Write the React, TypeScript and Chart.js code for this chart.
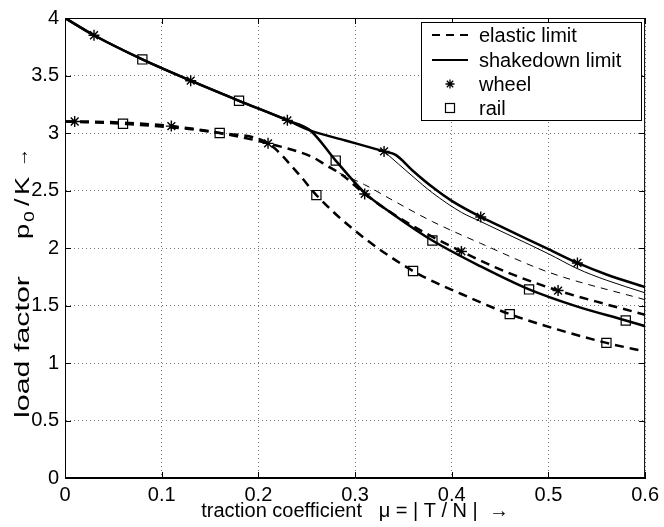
import React, { useEffect, useRef } from 'react';
import { Chart, registerables } from 'chart.js';

Chart.register(...registerables);

// ---- axes ----
const xTicks = [0, 0.1, 0.2, 0.3, 0.4, 0.5, 0.6];
const xTickLabels = ['0', '0.1', '0.2', '0.3', '0.4', '0.5', '0.6'];
const yTicks = [0, 0.5, 1, 1.5, 2, 2.5, 3, 3.5, 4];
const yTickLabels = ['0', '0.5', '1', '1.5', '2', '2.5', '3', '3.5', '4'];
const xTitle = 'traction coefficient   \u03bc = | T / N |  \u2192';
const yTitleWords = 'load factor';
const yTitleSym = 'p';
const yTitleSub = '0';
const yTitleRest = '/';
const yTitleK = 'K';
const yTitleArrow = '\u2192';

// ---- shakedown limit, wheel (thick solid) ----
const muShakeWheel = [0, 0.03, 0.08, 0.13, 0.18, 0.23, 0.254, 0.29, 0.33, 0.342, 0.36, 0.38, 0.4, 0.43, 0.45, 0.5, 0.53, 0.56, 0.6];
const p0ShakeWheel = [4.0, 3.85, 3.64, 3.455, 3.28, 3.11, 3.02, 2.935, 2.84, 2.81, 2.67, 2.53, 2.41, 2.27, 2.19, 1.99, 1.87, 1.77, 1.66];

// ---- shakedown limit, rail (thick solid) ----
const muShakeRail = [0, 0.03, 0.08, 0.13, 0.18, 0.23, 0.254, 0.28, 0.31, 0.34, 0.38, 0.43, 0.48, 0.53, 0.58, 0.6];
const p0ShakeRail = [4.0, 3.85, 3.64, 3.455, 3.28, 3.11, 3.02, 2.76, 2.48, 2.29, 2.065, 1.84, 1.64, 1.49, 1.37, 1.32];

// ---- elastic limit, wheel (thick dashed) ----
const muElasticWheel = [0, 0.01, 0.06, 0.11, 0.16, 0.21, 0.256, 0.27, 0.286, 0.31, 0.35, 0.41, 0.46, 0.51, 0.56, 0.6];
const p0ElasticWheel = [3.1, 3.1, 3.09, 3.06, 3.0, 2.91, 2.79, 2.72, 2.64, 2.47, 2.24, 1.97, 1.78, 1.63, 1.51, 1.42];

// ---- elastic limit, rail (thick dashed) ----
const muElasticRail = [0, 0.06, 0.16, 0.21, 0.242, 0.26, 0.3, 0.36, 0.41, 0.46, 0.51, 0.56, 0.6];
const p0ElasticRail = [3.1, 3.08, 3.0, 2.91, 2.64, 2.46, 2.15, 1.8, 1.6, 1.425, 1.29, 1.175, 1.1];

// ---- thin solid curve ----
const muThinSolid = [0.33, 0.36, 0.38, 0.41, 0.43, 0.45, 0.5, 0.53, 0.56, 0.6];
const p0ThinSolid = [2.84, 2.62, 2.48, 2.31, 2.23, 2.15, 1.95, 1.82, 1.72, 1.61];

// ---- thin dashed curve ----
const muThinDashed = [0.284, 0.31, 0.34, 0.38, 0.43, 0.5, 0.6];
const p0ThinDashed = [2.65, 2.55, 2.41, 2.23, 2.04, 1.79, 1.55];

// ---- markers ----
const muWheelMarks = [0.01, 0.11, 0.21, 0.31, 0.41, 0.51, 0.03, 0.13, 0.23, 0.33, 0.43, 0.53];
const p0WheelMarks = [3.1, 3.06, 2.91, 2.47, 1.97, 1.63, 3.85, 3.455, 3.11, 2.84, 2.27, 1.87];
const muRailMarks = [0.06, 0.16, 0.26, 0.36, 0.46, 0.56, 0.08, 0.18, 0.28, 0.38, 0.48, 0.58];
const p0RailMarks = [3.08, 3.0, 2.46, 1.8, 1.425, 1.175, 3.64, 3.28, 2.76, 2.065, 1.64, 1.37];

// ---- legend ----
const legendLabels = ['elastic limit', 'shakedown limit', 'wheel', 'rail'];

const FONT = "'Liberation Sans', Arial, Helvetica, sans-serif";
const FS = 20;

const pts = (xs: number[], ys: number[]) => xs.map((x, i) => ({ x, y: ys[i] }));

// rotated text piece: starts at screen y yStart and runs upward; baseline at screen x bx
function rotText(ctx: any, txt: string, bx: number, yStart: number, size: number, stretch: number, targetLen?: number) {
  ctx.save();
  ctx.font = `${size}px ${FONT}`;
  ctx.translate(bx, yStart);
  ctx.rotate(-Math.PI / 2);
  let k = stretch;
  if (targetLen) {
    const w = ctx.measureText(txt).width;
    k = targetLen / w;
  }
  ctx.scale(k, 1);
  ctx.textAlign = 'left';
  ctx.textBaseline = 'alphabetic';
  ctx.fillText(txt, 0, 0);
  ctx.restore();
}

const framePlugin = {
  id: 'matlabFrame',
  afterDraw(chart: any) {
    const { ctx, chartArea: a, scales } = chart;
    ctx.save();
    ctx.strokeStyle = '#000';
    ctx.lineWidth = 1;
    ctx.setLineDash([]);
    ctx.strokeRect(a.left + 0.5, a.top + 0.5, a.right - a.left - 1, a.bottom - a.top - 1);
    const tl = 6;
    ctx.beginPath();
    xTicks.forEach((v) => {
      const px = Math.round(scales.x.getPixelForValue(v)) + 0.5;
      ctx.moveTo(px, a.bottom);
      ctx.lineTo(px, a.bottom - tl);
      ctx.moveTo(px, a.top);
      ctx.lineTo(px, a.top + tl);
    });
    yTicks.forEach((v) => {
      const py = Math.round(scales.y.getPixelForValue(v)) + 0.5;
      ctx.moveTo(a.left, py);
      ctx.lineTo(a.left + tl, py);
      ctx.moveTo(a.right, py);
      ctx.lineTo(a.right - tl, py);
    });
    ctx.stroke();

    // y-axis title (rotated), drawn as real text
    ctx.fillStyle = '#000';
    const bx = 29;
    const k = 1.3;
    rotText(ctx, yTitleWords, bx, 418, 21, k, 142);
    rotText(ctx, yTitleSym, bx, 239, 21, k);
    rotText(ctx, yTitleSub, bx + 5, 222, 15, k);
    rotText(ctx, yTitleRest, bx, 206, 21, k);
    rotText(ctx, yTitleK, bx, 195, 21, k);
    rotText(ctx, yTitleArrow, bx - 1, 167, 19, 1);

    // legend
    const lx = 421, ly = 22, lw = 220, lh = 98;
    ctx.fillStyle = '#fff';
    ctx.fillRect(lx, ly, lw, lh);
    ctx.strokeStyle = '#000';
    ctx.lineWidth = 1;
    ctx.strokeRect(lx + 0.5, ly + 0.5, lw, lh);
    ctx.font = `${FS}px ${FONT}`;
    ctx.fillStyle = '#000';
    ctx.textBaseline = 'middle';
    ctx.textAlign = 'left';
    const rowY = [35, 60, 84, 108];
    const sx0 = 432, sx1 = 468, mx = 450, tx = 479;
    legendLabels.forEach((lab, i) => {
      const y = rowY[i];
      ctx.lineWidth = 2;
      ctx.strokeStyle = '#000';
      if (i === 0) {
        ctx.setLineDash([8, 6]);
        ctx.beginPath();
        ctx.moveTo(sx0, y);
        ctx.lineTo(sx1, y);
        ctx.stroke();
        ctx.setLineDash([]);
      } else if (i === 1) {
        ctx.beginPath();
        ctx.moveTo(sx0, y);
        ctx.lineTo(sx1, y);
        ctx.stroke();
      } else if (i === 2) {
        ctx.lineWidth = 1.3;
        ctx.beginPath();
        const r = 4.5;
        for (let q = 0; q < 4; q++) {
          const ang = (q * Math.PI) / 4;
          ctx.moveTo(mx - r * Math.cos(ang), y - r * Math.sin(ang));
          ctx.lineTo(mx + r * Math.cos(ang), y + r * Math.sin(ang));
        }
        ctx.stroke();
      } else {
        ctx.lineWidth = 1.2;
        ctx.strokeRect(mx - 4.5, y - 4.5, 9, 9);
      }
      ctx.fillText(lab, tx, y + 1);
    });
    ctx.restore();
  },
};

export default function App() {
  const ref = useRef<HTMLCanvasElement | null>(null);

  useEffect(() => {
    document.body.style.margin = '0';
    if (!ref.current) return;
    const thick = 2.5;
    const lineDs = (data: any[], dashed: boolean, width: number, dash: number[]) => ({
      type: 'line' as const,
      data,
      borderColor: '#000',
      borderWidth: width,
      borderDash: dashed ? dash : [],
      pointRadius: 0,
      fill: false,
      cubicInterpolationMode: 'monotone' as const,
    });
    const chart = new Chart(ref.current, {
      type: 'line',
      data: {
        datasets: [
          lineDs(pts(muThinSolid, p0ThinSolid), false, 1, []),
          lineDs(pts(muThinDashed, p0ThinDashed), true, 1, [7, 6]),
          lineDs(pts(muShakeWheel, p0ShakeWheel), false, thick, []),
          lineDs(pts(muShakeRail, p0ShakeRail), false, thick, []),
          lineDs(pts(muElasticWheel, p0ElasticWheel), true, thick, [9, 6]),
          lineDs(pts(muElasticRail, p0ElasticRail), true, thick, [9, 6]),
          {
            type: 'scatter' as const,
            data: pts(muWheelMarks, p0WheelMarks),
            showLine: false,
            pointStyle: 'star',
            pointRadius: 5.5,
            pointBorderWidth: 1.4,
            borderColor: '#000',
            backgroundColor: '#000',
          } as any,
          {
            type: 'scatter' as const,
            data: pts(muRailMarks, p0RailMarks),
            showLine: false,
            pointStyle: 'rect',
            pointRadius: 6.5,
            pointBorderWidth: 1.2,
            borderColor: '#000',
            backgroundColor: 'rgba(0,0,0,0)',
          } as any,
        ],
      },
      options: {
        responsive: false,
        animation: false,
        layout: { padding: { left: 0, top: 15, right: 16, bottom: 0 } },
        plugins: {
          legend: { display: false },
          tooltip: { enabled: false },
        },
        scales: {
          x: {
            type: 'linear',
            min: 0,
            max: 0.6,
            afterBuildTicks: (s: any) => {
              s.ticks = xTicks.map((v) => ({ value: v }));
            },
            afterFit: (s: any) => {
              s.height = 49;
            },
            ticks: {
              color: '#000',
              font: { family: FONT, size: FS },
              padding: 5,
              maxRotation: 0,
              autoSkip: false,
              callback: (v: any) => xTickLabels[xTicks.findIndex((t) => Math.abs(t - v) < 1e-9)],
            },
            grid: { color: '#777', lineWidth: 1, drawTicks: false },
            border: { display: true, color: '#000', width: 1, dash: [1, 3] },
            title: {
              display: true,
              text: xTitle,
              color: '#000',
              font: { family: FONT, size: FS },
              padding: { top: 0, bottom: 4 },
            },
          },
          y: {
            type: 'linear',
            min: 0,
            max: 4,
            afterBuildTicks: (s: any) => {
              s.ticks = yTicks.map((v) => ({ value: v }));
            },
            afterFit: (s: any) => {
              s.width = 65;
            },
            ticks: {
              color: '#000',
              font: { family: FONT, size: FS },
              padding: 6,
              autoSkip: false,
              callback: (v: any) => yTickLabels[yTicks.findIndex((t) => Math.abs(t - v) < 1e-9)],
            },
            grid: { color: '#777', lineWidth: 1, drawTicks: false },
            border: { display: true, color: '#000', width: 1, dash: [1, 3] },
            title: { display: false },
          },
        },
      } as any,
      plugins: [framePlugin],
    });
    return () => chart.destroy();
  }, []);

  return (
    <div style={{ width: 664, height: 527, background: '#fff' }}>
      <canvas ref={ref} width={664} height={527} style={{ display: 'block' }} />
    </div>
  );
}
